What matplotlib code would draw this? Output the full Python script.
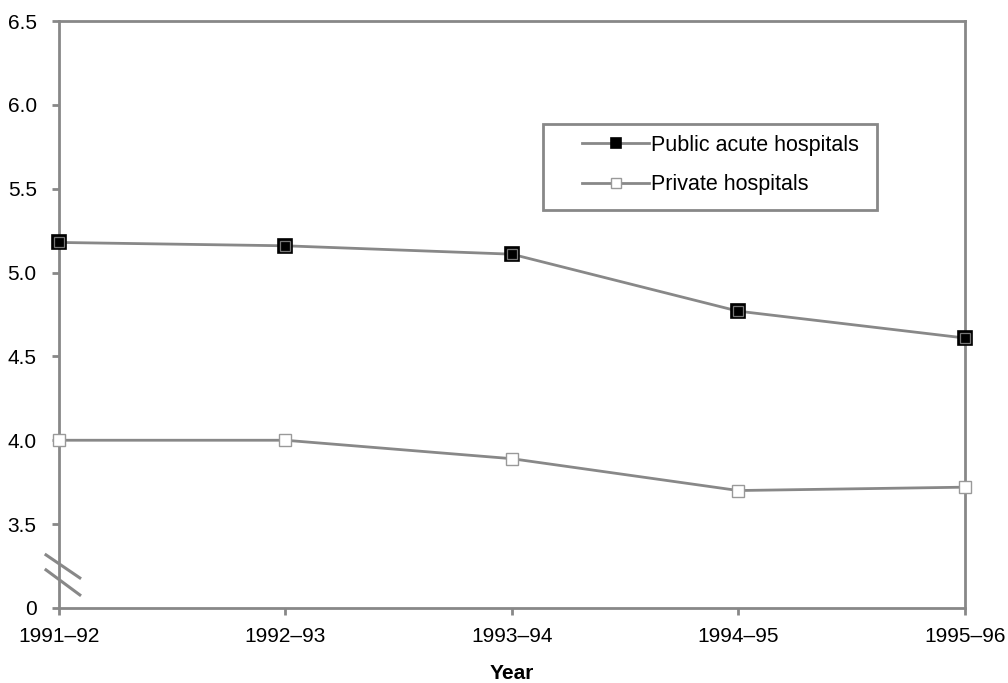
import matplotlib.pyplot as plt
from matplotlib.patches import Rectangle

plt.rcParams['font.family'] = ['Liberation Sans', 'DejaVu Sans']

years = ['1991\u201392', '1992\u201393', '1993\u201394', '1994\u201395', '1995\u201396']
public_acute = [5.18, 5.16, 5.11, 4.77, 4.61]
private = [4.00, 4.00, 3.89, 3.70, 3.72]
yticks = [3.0, 3.5, 4.0, 4.5, 5.0, 5.5, 6.0, 6.5]
ytick_labels = ['0', '3.5', '4.0', '4.5', '5.0', '5.5', '6.0', '6.5']

grey = '#888888'
x = range(len(years))

fig = plt.figure(figsize=(10.08, 6.83), dpi=100)
ax = fig.add_axes([0.0585, 0.110, 0.8985, 0.859])

ax.plot(x, public_acute, color=grey, lw=2.0, marker='s', ms=9.5,
        mfc='black', mec='black', mew=1.2, label='Public acute hospitals',
        zorder=3, clip_on=False)
ax.plot(x, public_acute, ls='none', marker='s', ms=7, mfc='black',
        mec='#777777', mew=0.9, zorder=4, clip_on=False)
ax.plot(x, private, color=grey, lw=2.0, marker='s', ms=8.5,
        mfc='white', mec='#999999', mew=1.0, label='Private hospitals',
        zorder=3, clip_on=False)

ax.set_xlim(0, 4)
ax.set_ylim(3.0, 6.5)
ax.set_xticks(list(x))
ax.set_xticklabels(years)
ax.set_yticks(yticks)
ax.set_yticklabels(ytick_labels)
ax.tick_params(labelsize=15, color=grey, width=2, length=5)
ax.tick_params(axis='y', pad=11)
ax.tick_params(axis='x', pad=9)
for s in ax.spines.values():
    s.set_color(grey)
    s.set_linewidth(2)
ax.set_xlabel('Year', fontsize=15, fontweight='bold', labelpad=13)

# axis break marks
for y0, y1 in [(0.0903, 0.0511), (0.0647, 0.0221)]:
    ax.plot([-0.0143, 0.023], [y0, y1], transform=ax.transAxes,
            color=grey, lw=2.2, clip_on=False, zorder=5)

# legend box drawn separately
ax.add_patch(Rectangle((0.534, 0.678), 0.369, 0.1465, transform=ax.transAxes,
                       fill=True, facecolor='white', edgecolor=grey, lw=2, zorder=6))
leg = ax.legend(loc='upper left', bbox_to_anchor=(0.578, 0.806),
                fontsize=15.5, frameon=False, handlelength=3.1,
                handletextpad=0.1, borderpad=0, labelspacing=0.85,
                borderaxespad=0, markerscale=0.8)
leg.set_zorder(7)

fig.savefig('out.png', dpi=100)
